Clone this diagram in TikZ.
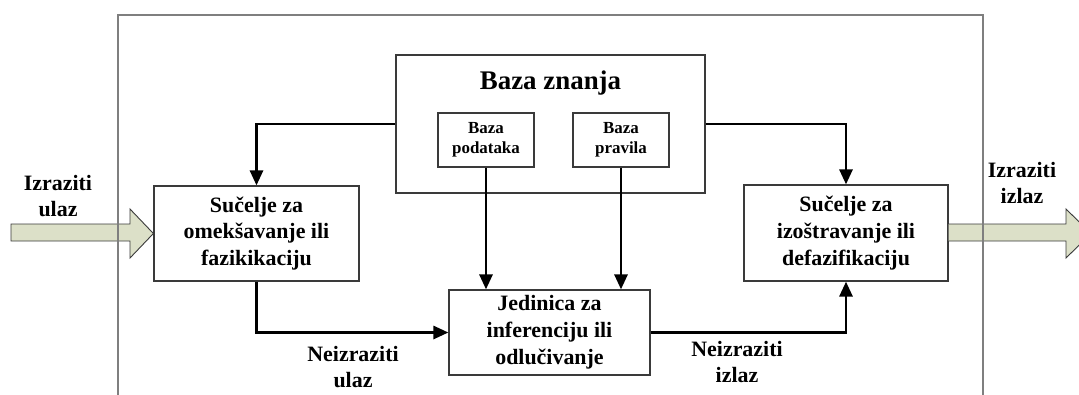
\documentclass[tikz,border=0pt]{standalone}
\usepackage{fontspec}
\setmainfont{Liberation Serif}
\usetikzlibrary{arrows.meta,calc}
\definecolor{framegray}{HTML}{7F7F7F}
\definecolor{boxline}{HTML}{3A3A3A}
\definecolor{arrowfill}{HTML}{DCE0C8}
\begin{document}
\begin{tikzpicture}[x=1bp,y=-1bp,
  box/.style={draw=boxline,line width=1.2bp,fill=white,align=center,inner sep=0pt,
    font=\bfseries\fontsize{22}{27}\selectfont},
  smallbox/.style={draw=boxline,line width=1.2bp,fill=white,align=center,inner sep=0pt,
    minimum width=96bp,minimum height=54bp,font=\bfseries\fontsize{17}{20}\selectfont},
  lbl/.style={align=center,inner sep=0pt,font=\bfseries\fontsize{22}{27}\selectfont},
  conn/.style={line width=2.8bp,black},
  tip/.style={-{Triangle[length=15bp,width=13bp]}},
  blockarrow/.style={draw=boxline,line width=0.9bp,fill=arrowfill}]
\useasboundingbox (0,0) rectangle (1079,394);

% boxes
\node[box,minimum width=309bp,minimum height=138bp] (bz) at (550.5,124) {};
\node[lbl,font=\bfseries\fontsize{27}{30}\selectfont] (bzt) at (550.5,83) {Baza znanja};
\node[smallbox] (bp) at (486,140) {Baza\\podataka};
\node[smallbox] (br) at (621,140) {Baza\\pravila};
\node[box,minimum width=205bp,minimum height=95bp] (lb) at (256.5,233.5) {Sučelje za\\omekšavanje ili\\fazikikaciju};
\node[box,minimum width=204bp,minimum height=96bp] (rb) at (846,233) {Sučelje za\\izoštravanje ili\\defazifikaciju};
\node[box,minimum width=201bp,minimum height=85bp] (ji) at (549.5,332.5) {Jedinica za\\inferenciju ili\\odlučivanje};

% connectors
\draw[conn,tip] (bz.west) -| (lb.north);
\draw[conn,tip] (bz.east) -| (rb.north);
\draw[conn,tip] (bp.south) -- (bp.south |- ji.north);
\draw[conn,tip] (br.south) -- (br.south |- ji.north);
\draw[conn,tip] (lb.south) |- (ji.west);
\draw[conn,tip] (ji.east) -| (rb.south);

% block arrows
\coordinate (inTip) at (lb.west);
\draw[blockarrow] (11,224) -- (130,224) -- (130,209) -- (inTip) -- (130,258) -- (130,241) -- (11,241) -- cycle;
\coordinate (outBase) at (rb.east);
\begin{scope}
\clip (0,0) rectangle (1079,394);
\draw[blockarrow] (outBase |- 0,224) -- (1066,224) -- (1066,209) -- (1091,233.5) -- (1066,258) -- (1066,241) -- (outBase |- 0,241);
\end{scope}

% outer frame
\draw[framegray,line width=1.6bp] (118,400) -- (118,15) -- (983,15) -- (983,400);

% labels
\node[lbl] (inl) at (58,196) {Izraziti\\ulaz};
\node[lbl] (outl) at (1022,183) {Izraziti\\izlaz};
\node[lbl] (nul) at (353,367) {Neizraziti\\ulaz};
\node[lbl] (nil) at (737,362) {Neizraziti\\izlaz};
\end{tikzpicture}
\end{document}
